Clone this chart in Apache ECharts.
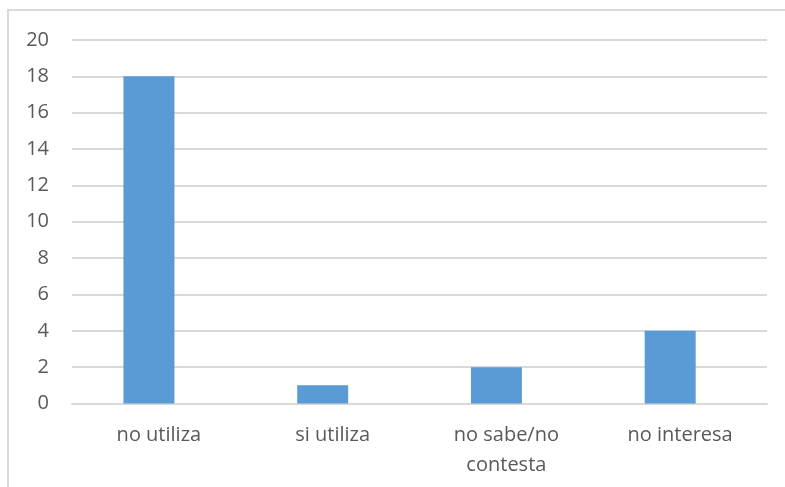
<!DOCTYPE html>
<html>
<head>
<meta charset="utf-8">
<script src="https://cdn.jsdelivr.net/npm/echarts@6/dist/echarts.min.js"></script>
<style>
  html, body { margin: 0; padding: 0; background: #ffffff; }
  #chart { width: 785px; height: 487px; }
</style>
</head>
<body>
<div id="chart"></div>
<script>
// Survey answers and their counts
const categories = ['no utiliza', 'si utiliza', 'no sabe/no\ncontesta', 'no interesa'];
const counts = [18, 1, 2, 4];
// Empty companion series: keeps the slot next to each bar reserved
const companion = [null, null, null, null];

const chart = echarts.init(document.getElementById('chart'), null, { renderer: 'canvas' });

const textColor = '#595959';
const lineColor = '#D9D9D9';
const fontFamily = '"Open Sans", "Noto Sans", sans-serif';

chart.setOption({
  animation: false,
  backgroundColor: '#ffffff',
  graphic: [{
    type: 'rect',
    shape: { x: 8, y: 10, width: 800, height: 500 },
    style: { fill: 'none', stroke: lineColor, lineWidth: 2 },
    silent: true
  }],
  grid: { left: 72, right: 18, top: 40, bottom: 83.5 },
  xAxis: {
    type: 'category',
    data: categories,
    axisLine: { show: true, lineStyle: { color: lineColor, width: 2 } },
    axisTick: { show: false },
    axisLabel: {
      color: textColor,
      fontSize: 20,
      fontFamily: fontFamily,
      margin: 17,
      lineHeight: 30,
      interval: 0
    }
  },
  yAxis: {
    type: 'value',
    min: 0,
    max: 20,
    interval: 2,
    axisLine: { show: false },
    axisTick: { show: false },
    splitLine: { lineStyle: { color: lineColor, width: 2 } },
    axisLabel: {
      color: textColor,
      fontSize: 20,
      fontFamily: fontFamily,
      margin: 23
    }
  },
  series: [
    {
      type: 'bar',
      data: counts,
      barWidth: 51,
      itemStyle: { color: '#5B9BD5' }
    },
    {
      type: 'bar',
      data: companion,
      barWidth: 51,
      barGap: '-61%'
    }
  ]
});
</script>
</body>
</html>
